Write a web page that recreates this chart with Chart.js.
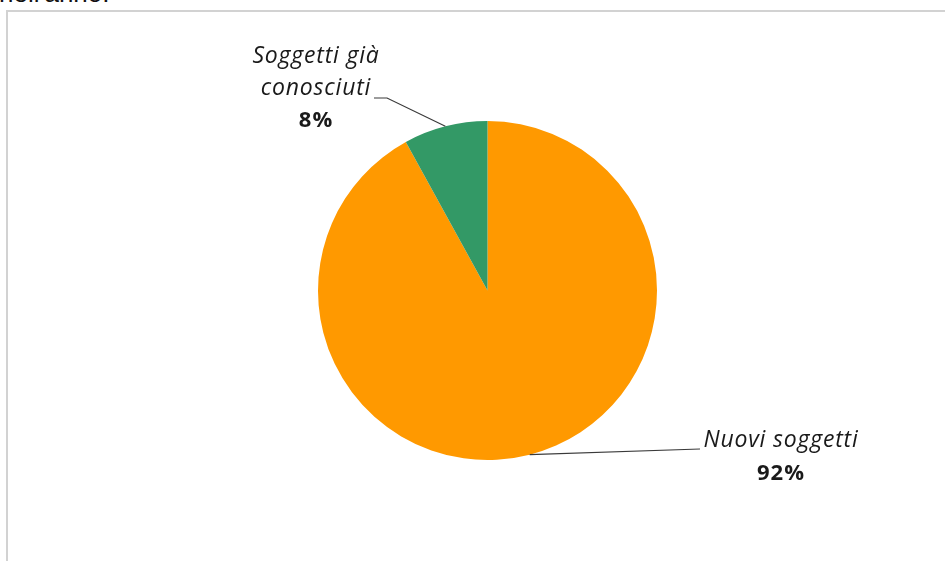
<!DOCTYPE html>
<html>
<head>
<meta charset="utf-8">
<script src="https://cdn.jsdelivr.net/npm/chart.js@4.4.1/dist/chart.umd.min.js"></script>
<style>
  html, body { margin: 0; padding: 0; background: #fff; overflow: hidden; }
  #wrap { position: relative; width: 945px; height: 561px; }
  #frame {
    position: absolute; left: 6px; top: 10px; width: 1000px; height: 1000px;
    border-left: 2px solid #d2d2d2; border-top: 2px solid #d2d2d2;
  }
  #title {
    position: absolute; left: -1px; top: -22px; margin: 0;
    font: 26px "Liberation Sans", Arial, sans-serif; color: #111; line-height: 30px;
  }
  canvas { position: absolute; left: 0; top: 0; }
</style>
</head>
<body>
<div id="wrap">
  <p id="title">nell'anno.</p>
  <div id="frame"></div>
  <canvas id="pie" width="945" height="561"></canvas>
</div>
<script>
// --- Data ---
const categories = ['Nuovi soggetti', ['Soggetti già', 'conosciuti']];
const shares = [92, 8];
const sliceColors = ['#FF9900', '#339966'];

// label placement: text centre x, first baseline, leader line points (elbow/end)
const labelLayout = [
  { x: 781, y: 447, lineH: 33, leader: [[700, 449]] },
  { x: 316, y: 63, lineH: 32, leader: [[387, 98], [374, 98]] }
];

const labelFont = 'italic 23px "Open Sans", Lato, sans-serif';
const valueFont = 'bold 22px "Open Sans", Lato, sans-serif';

// --- Callout labels with leader lines ---
const calloutPlugin = {
  id: 'callouts',
  afterDatasetsDraw(chart) {
    const ctx = chart.ctx;
    const arcs = chart.getDatasetMeta(0).data;
    ctx.save();
    arcs.forEach((arc, i) => {
      const mid = (arc.startAngle + arc.endAngle) / 2;
      const sx = arc.x + Math.cos(mid) * arc.outerRadius;
      const sy = arc.y + Math.sin(mid) * arc.outerRadius;
      const lay = labelLayout[i];

      ctx.strokeStyle = '#3a3a3a';
      ctx.lineWidth = 1.2;
      ctx.beginPath();
      ctx.moveTo(sx, sy);
      lay.leader.forEach(p => ctx.lineTo(p[0], p[1]));
      ctx.stroke();

      const lines = [].concat(categories[i]);
      ctx.fillStyle = '#1a1a1a';
      ctx.textAlign = 'center';
      ctx.textBaseline = 'alphabetic';
      ctx.letterSpacing = '0.8px';
      ctx.font = labelFont;
      lines.forEach((t, k) => ctx.fillText(t, lay.x, lay.y + k * lay.lineH));
      ctx.letterSpacing = '1px';
      ctx.font = valueFont;
      ctx.fillText(shares[i] + '%', lay.x, lay.y + lines.length * lay.lineH);
    });
    ctx.restore();
  }
};

new Chart(document.getElementById('pie'), {
  type: 'pie',
  data: {
    labels: categories.map(c => [].concat(c).join(' ')),
    datasets: [{
      data: shares,
      backgroundColor: sliceColors,
      borderWidth: 0
    }]
  },
  options: {
    responsive: false,
    animation: false,
    layout: { padding: { left: 318, right: 288, top: 121, bottom: 101 } },
    plugins: {
      legend: { display: false },
      tooltip: { enabled: false }
    }
  },
  plugins: [calloutPlugin]
});
</script>
</body>
</html>
